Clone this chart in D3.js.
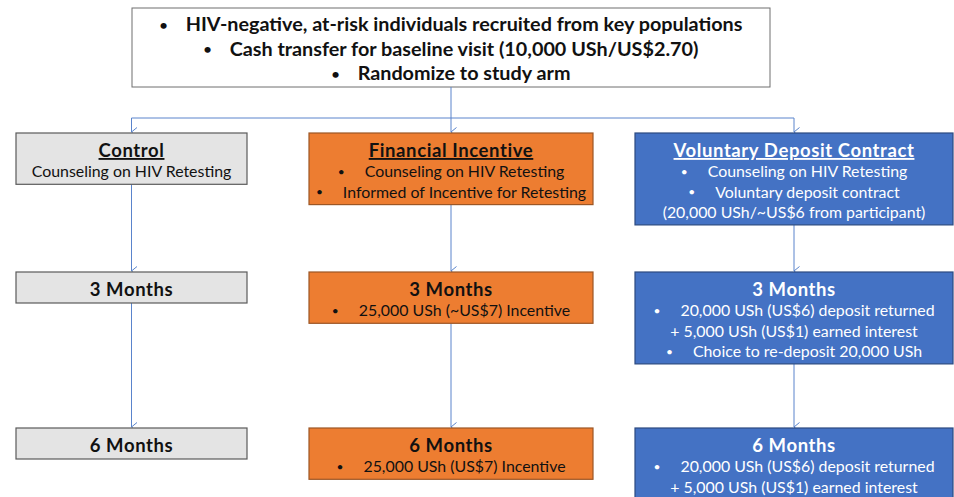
<!DOCTYPE html>
<html><head><meta charset="utf-8">
<script src="https://cdn.jsdelivr.net/npm/d3@7"></script>
<style>
html,body{margin:0;padding:0;background:#fff;}
svg{display:block;font-family:Lato,"Open Sans",sans-serif;}
</style></head>
<body><svg id="c" width="954" height="497"></svg>
<script>
// ---- data ----
const topLines = [
  "HIV-negative, at-risk individuals recruited from key populations",
  "Cash transfer for baseline visit (10,000 USh/US$2.70)",
  "Randomize to study arm"
];
const arms = ["Control", "Financial Incentive", "Voluntary Deposit Contract"];
const stages = ["Enrollment", "3 Months", "6 Months"];
// each line: [text, bullet?, bold?, underline?]
const cells = {
  "Control": [
    [["Control", false, true, true], ["Counseling on HIV Retesting", false, false, false]],
    [["3 Months", false, true, false]],
    [["6 Months", false, true, false]]
  ],
  "Financial Incentive": [
    [["Financial Incentive", false, true, true], ["Counseling on HIV Retesting", true, false, false], ["Informed of Incentive for Retesting", true, false, false]],
    [["3 Months", false, true, false], ["25,000 USh (~US$7) Incentive", true, false, false]],
    [["6 Months", false, true, false], ["25,000 USh (US$7) Incentive", true, false, false]]
  ],
  "Voluntary Deposit Contract": [
    [["Voluntary Deposit Contract", false, true, true], ["Counseling on HIV Retesting", true, false, false], ["Voluntary deposit contract", true, false, false], ["(20,000 USh/~US$6 from participant)", false, false, false]],
    [["3 Months", false, true, false], ["20,000 USh (US$6) deposit returned", true, false, false], ["+ 5,000 USh (US$1) earned interest", false, false, false], ["Choice to re-deposit 20,000 USh", true, false, false]],
    [["6 Months", false, true, false], ["20,000 USh (US$6) deposit returned", true, false, false], ["+ 5,000 USh (US$1) earned interest", false, false, false]]
  ]
};

// ---- layout / style ----
const armStyle = {
  "Control": {fill:"#e4e4e4", stroke:"#5a5a5a", text:"#111", x0:16, x1:247},
  "Financial Incentive": {fill:"#ed7d31", stroke:"#9c5625", text:"#111", x0:309, x1:593},
  "Voluntary Deposit Contract": {fill:"#4472c4", stroke:"#2c4a80", text:"#fff", x0:635, x1:953}
};
const stageTop = {"Enrollment":133, "3 Months":272, "6 Months":428};
const lineH = 20.3, padTop = 19, padBot = 11;
const linkColor = "#5a84cc";

const svg = d3.select("#c");
const defs = svg.append("defs");
defs.append("marker").attr("id","arr").attr("viewBox","-6 -7 12 8")
  .attr("refX",0).attr("refY",0).attr("markerWidth",12).attr("markerHeight",8)
  .attr("markerUnits","userSpaceOnUse").attr("orient","auto-start-reverse")
  .append("path").attr("d","M-4.5,-5.5 L0,0 L4.5,-5.5").attr("fill","none")
  .attr("stroke",linkColor).attr("stroke-width",1);

// top box
const topBox = {x0:132, x1:770, y0:8, y1:87};
svg.append("rect").attr("x",topBox.x0).attr("y",topBox.y0)
  .attr("width",topBox.x1-topBox.x0).attr("height",topBox.y1-topBox.y0)
  .attr("fill","#fff").attr("stroke","#6e6e6e").attr("stroke-width",1);
const cx = (topBox.x0+topBox.x1)/2;
svg.selectAll("text.top").data(topLines).join("text").attr("class","top")
  .attr("x",cx).attr("y",(d,i)=>31+i*24.5).attr("text-anchor","middle")
  .attr("font-size",19.8).attr("font-weight",700).attr("fill","#111")
  .each(function(d){
    const t=d3.select(this);
    t.append("tspan").attr("font-size",14).attr("dy",-1.5).text("•");
    t.append("tspan").attr("dx",18).attr("dy",1.5).text(d);
  });

// column centers
const colX = a => (armStyle[a].x0 + armStyle[a].x1)/2;
const boxH = (a,s) => {
  const n = cells[a][stages.indexOf(s)].length;
  return padTop + (n-1)*lineH + padBot + 1;
};

// connectors
const busY = 118;
const links = svg.append("g").attr("stroke",linkColor).attr("stroke-width",1).attr("fill","none");
links.append("line").attr("x1",cx).attr("x2",cx).attr("y1",topBox.y1).attr("y2",busY);
links.append("line").attr("x1",colX(arms[0])).attr("x2",colX(arms[2])).attr("y1",busY).attr("y2",busY);
arms.forEach(a=>{
  links.append("line").attr("x1",colX(a)).attr("x2",colX(a)).attr("y1",busY).attr("y2",stageTop["Enrollment"]-1)
    .attr("marker-end","url(#arr)");
  for(let i=0;i<stages.length-1;i++){
    const y0 = stageTop[stages[i]] + boxH(a,stages[i]);
    links.append("line").attr("x1",colX(a)).attr("x2",colX(a)).attr("y1",y0).attr("y2",stageTop[stages[i+1]]-1)
      .attr("marker-end","url(#arr)");
  }
});

// boxes
const boxData = [];
arms.forEach(a=>stages.forEach((s,si)=>boxData.push({arm:a, stage:s, lines:cells[a][si]})));
const g = svg.selectAll("g.box").data(boxData).join("g").attr("class","box");
g.append("rect")
  .attr("x",d=>armStyle[d.arm].x0).attr("y",d=>stageTop[d.stage])
  .attr("width",d=>armStyle[d.arm].x1-armStyle[d.arm].x0)
  .attr("height",d=>boxH(d.arm,d.stage))
  .attr("fill",d=>armStyle[d.arm].fill).attr("stroke",d=>armStyle[d.arm].stroke).attr("stroke-width",1.2);
g.each(function(d){
  const gg = d3.select(this);
  d.lines.forEach((ln,i)=>{
    const [txt,bullet,bold,ul] = ln;
    const t = gg.append("text").attr("x",colX(d.arm)).attr("y",stageTop[d.stage]+padTop+5+i*lineH)
      .attr("text-anchor","middle").attr("fill",armStyle[d.arm].text)
      .attr("font-size",bold?18.5:15.9).attr("font-weight",bold?700:400)
      .attr("letter-spacing",bold?0.6:0);
    if(ul) t.attr("text-decoration","underline");
    if(bullet){
      t.append("tspan").attr("font-size",12).attr("dy",-1.3).text("•");
      t.append("tspan").attr("dx",20).attr("dy",1.3).text(txt);
    }
    else t.text(txt);
  });
});
</script></body></html>
